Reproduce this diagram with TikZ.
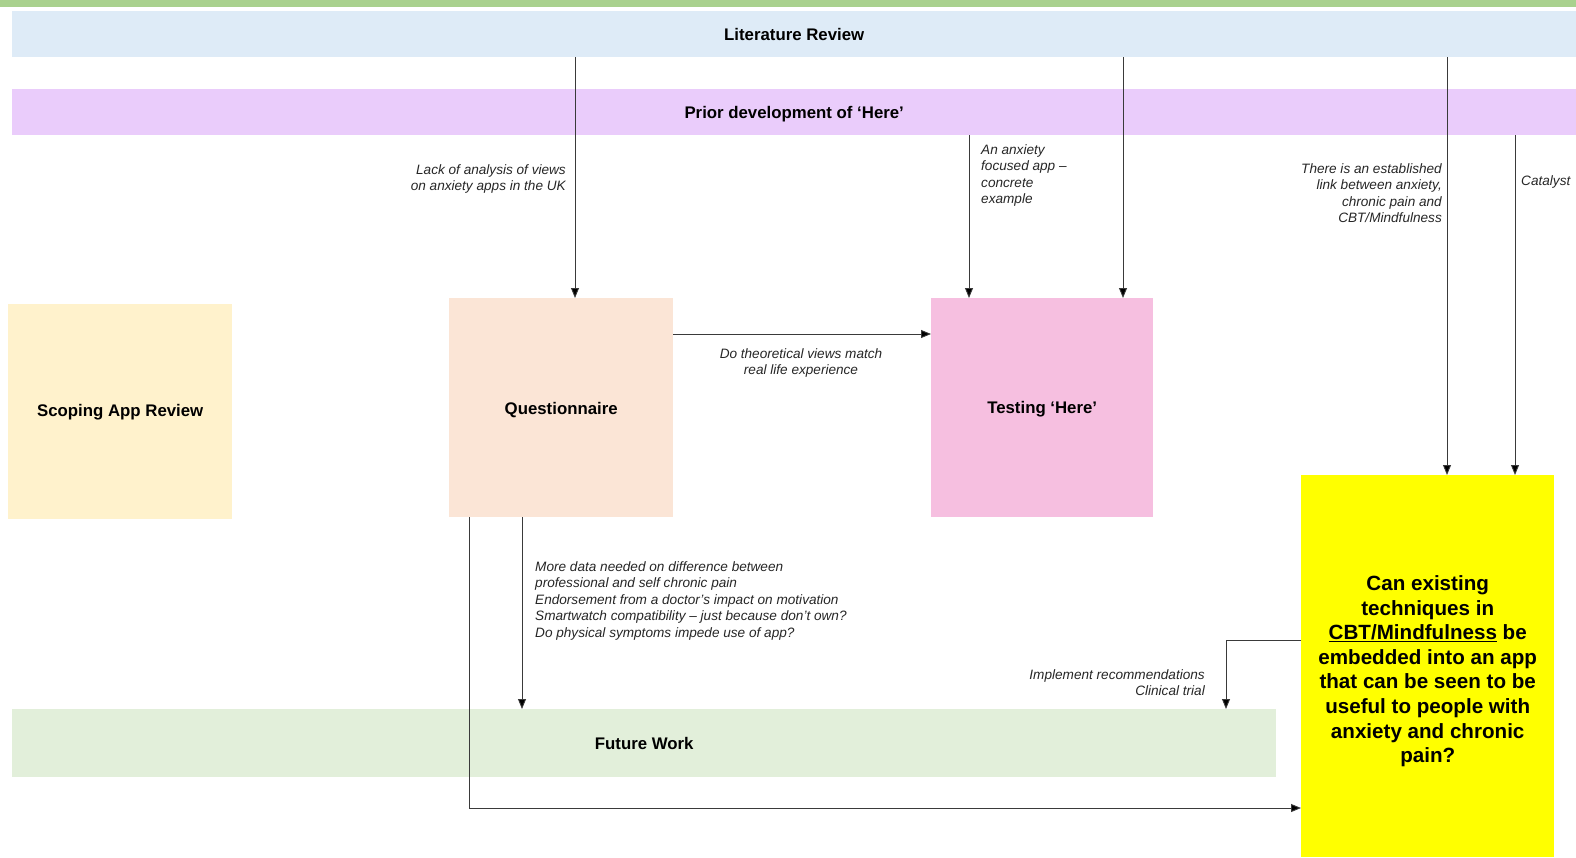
\documentclass[tikz,border=0pt]{standalone}
\usepackage{fontspec}
\setmainfont{Liberation Sans}
\usetikzlibrary{arrows.meta}
\definecolor{topgreen}{HTML}{A9D18E}
\definecolor{litblue}{HTML}{DEEBF7}
\definecolor{priorpurple}{HTML}{EACCFB}
\definecolor{scopeyellow}{HTML}{FFF2CC}
\definecolor{questpeach}{HTML}{FBE5D6}
\definecolor{testpink}{HTML}{F6BFE0}
\definecolor{futuregreen}{HTML}{E2EFDA}
\definecolor{qyellow}{HTML}{FFFF00}
\definecolor{linegray}{HTML}{3A3A3A}
\begin{document}
\begin{tikzpicture}[x=1pt,y=-1pt,
  box/.style={draw=none, inner sep=0pt, anchor=north west, font=\fontsize{16.8}{20}\selectfont\bfseries},
  lbl/.style={inner sep=0pt, font=\fontsize{13.6}{16.5}\selectfont\itshape, text=black!85},
  conn/.style={draw=linegray, line width=0.9pt, -{Triangle[width=8pt,length=10pt,fill=black]}}
]
\useasboundingbox (0,0) rectangle (1576,857);
% top strip
\fill[topgreen] (0,0) rectangle (1576,7);
% bands and boxes
\node[box, fill=litblue, minimum width=1564pt, minimum height=46pt] (lit) at (12,11) {Literature Review};
\node[box, fill=priorpurple, minimum width=1564pt, minimum height=46pt] (prior) at (12,89) {\rule{0pt}{16pt}Prior development of ‘Here’};
\node[box, fill=scopeyellow, minimum width=224pt, minimum height=215pt] (scope) at (8,304) {Scoping App Review};
\node[box, fill=questpeach, minimum width=224pt, minimum height=219pt] (quest) at (449,298) {\rule{0pt}{16pt}Questionnaire};
\node[box, fill=testpink, minimum width=222pt, minimum height=219pt] (test) at (931,298) {\rule{0pt}{16pt}Testing ‘Here’};
\node[box, fill=futuregreen, minimum width=1264pt, minimum height=68pt] (fut) at (12,709) {Future Work};
\node[box, fill=qyellow, minimum width=253pt, minimum height=382pt, align=center,
  font=\fontsize{20.6}{24.6}\selectfont\bfseries] (yel) at (1301,475)
  {\rule{0pt}{25pt}Can existing\\techniques in\\\underline{CBT/Mindfulness} be\\embedded into an app\\that can be seen to be\\useful to people with\\anxiety and chronic\\pain?};
% helper coordinates
\coordinate (xa) at (575,0);
\coordinate (xb) at (969,0);
\coordinate (xc) at (1123,0);
\coordinate (xd) at (1447,0);
\coordinate (xe) at (1515,0);
\coordinate (xf) at (522,0);
\coordinate (xg) at (469,0);
\coordinate (yg) at (0,808);
\coordinate (yh) at (0,640);
\coordinate (xh) at (1226,0);
\coordinate (yq) at (0,334);
% connectors
\draw[conn] (lit.south -| xa) -- (quest.north -| xa);
\draw[conn] (prior.south -| xb) -- (test.north -| xb);
\draw[conn] (lit.south -| xc) -- (test.north -| xc);
\draw[conn] (lit.south -| xd) -- (yel.north -| xd);
\draw[conn] (prior.south -| xe) -- (yel.north -| xe);
\draw[conn] (quest.east |- yq) -- (test.west |- yq);
\draw[conn] (quest.south -| xf) -- (fut.north -| xf);
\draw[conn] (quest.south -| xg) |- (yel.west |- yg);
\draw[conn] (yel.west |- yh) -| (fut.north -| xh);
% labels
\node[lbl, anchor=north east, align=right] (l1) at (566,164) {Lack of analysis of views\\on anxiety apps in the UK};
\node[lbl, anchor=north west, align=left] (l2) at (981,144) {An anxiety\\focused app –\\concrete\\example};
\node[lbl, anchor=north east, align=right] (l3) at (1442,163) {There is an established\\link between anxiety,\\chronic pain and\\CBT/Mindfulness};
\node[lbl, anchor=north west] (l4) at (1521,175) {Catalyst};
\node[lbl, anchor=north, align=center] (l5) at (801,348) {Do theoretical views match\\real life experience};
\node[lbl, anchor=north west, align=left] (l6) at (535,561) {More data needed on difference between\\professional and self chronic pain\\Endorsement from a doctor’s impact on motivation\\Smartwatch compatibility – just because don’t own?\\Do physical symptoms impede use of app?};
\node[lbl, anchor=north east, align=right] (l7) at (1205,669) {Implement recommendations\\Clinical trial};
\end{tikzpicture}
\end{document}
